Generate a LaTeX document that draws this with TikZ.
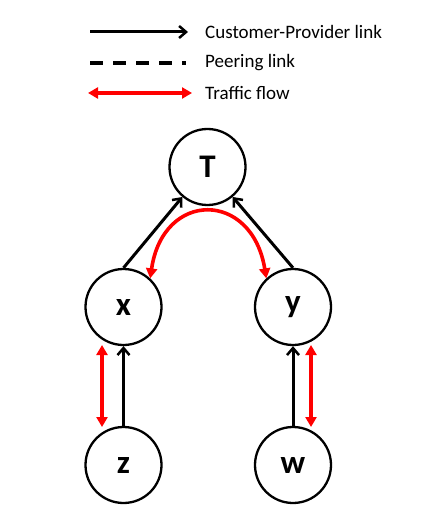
\documentclass[tikz,border=0pt]{standalone}
\usepackage{fontspec}
\setmainfont{Carlito}
\usetikzlibrary{arrows.meta}
\tikzset{
  asnode/.style={circle, draw=black, line width=2.3pt, minimum size=76pt, inner sep=0pt, font=\fontsize{33}{33}\selectfont\bfseries},
  cplink/.style={draw=black, line width=3pt, -{Straight Barb[length=7pt,width=12pt,line width=2.5pt]}},
  peerlink/.style={draw=black, line width=3.2pt, dash pattern=on 13pt off 10pt},
  traffic/.style={draw=red, line width=3.6pt, {Triangle[length=10pt,width=11pt]}-{Triangle[length=10pt,width=11pt]}},
  legtext/.style={anchor=west, inner sep=0pt, font=\fontsize{19}{21}\selectfont}
}
\begin{document}
\begin{tikzpicture}[x=1pt,y=-1pt]
\useasboundingbox (0,0) rectangle (435,518);
% legend
\coordinate (l1a) at (90,32);  \coordinate (l1b) at (188,32);
\coordinate (l2a) at (90,63);  \coordinate (l2b) at (186,63);
\coordinate (l3a) at (88,93);  \coordinate (l3b) at (192,93);
\draw[cplink] (l1a) -- (l1b);
\draw[peerlink] (l2a) -- (l2b);
\draw[traffic] (l3a) -- (l3b);
\node[legtext] (t1) at (205,32) {Customer-Provider link};
\node[legtext] (t2) at (205,63) {Peering link};
\node[legtext] (t3) at (205,93) {Traffic flow};
% nodes
\node[asnode] (T) at (207.5,167) {T};
\node[asnode] (x) at (123.5,307) {x};
\node[asnode] (y) at (293,307) {y};
\node[asnode] (z) at (123.5,465) {z};
\node[asnode] (w) at (293,465) {w};
% customer-provider links
\draw[cplink] (x.north) -- (T.230);
\draw[cplink] (y.north) -- (T.310);
\draw[cplink] (z.north) -- (x.south);
\draw[cplink] (w.north) -- (y.south);
% traffic flows
\draw[traffic] (x.47) .. controls (163,190) and (252,190) .. (y.133);
\coordinate (r1a) at (102,345); \coordinate (r1b) at (102,427);
\coordinate (r2a) at (311,345); \coordinate (r2b) at (311,427);
\draw[traffic] (r1a) -- (r1b);
\draw[traffic] (r2a) -- (r2b);
\end{tikzpicture}
\end{document}
